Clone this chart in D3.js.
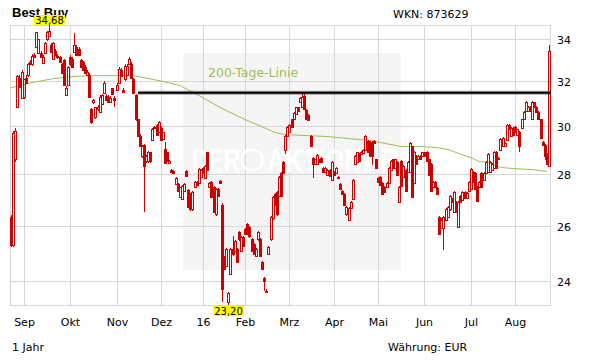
<!DOCTYPE html>
<html>
<head>
<meta charset="utf-8">
<script src="https://cdnjs.cloudflare.com/ajax/libs/d3/7.8.5/d3.min.js"></script>
<style>
body { margin: 0; background: #fff; }
svg { display: block; font-family: "DejaVu Sans", Verdana, sans-serif; }
</style>
</head>
<body>
<svg id="chart" width="611" height="364"></svg>
<script>
// Month ticks: label and index of the first trading day of that month
var monthLabels = ["Sep", "Okt", "Nov", "Dez", "16", "Feb", "Mrz", "Apr", "Mai", "Jun", "Jul", "Aug"];
var monthStartIdx = [6, 28, 50, 71, 91, 111, 132, 153, 174, 196, 218, 239];
var priceTicks = [24, 26, 28, 30, 32, 34];

// Daily candles, 24.08.2015 - 23.08.2016 : [open, high, low, close] in EUR
var candles = [
    [26.31,26.40,25.20,25.27],[25.27,29.80,25.20,29.70],[28.60,29.90,28.50,29.80],[30.84,32.30,30.80,32.21],
    [32.16,32.30,31.70,31.74],[31.24,32.50,31.20,32.44],[31.29,32.10,31.20,32.07],[32.16,32.30,31.90,31.93],
    [32.30,32.85,32.20,32.77],[32.90,33.00,32.75,32.80],[32.77,33.25,32.70,33.19],[33.24,33.30,33.10,33.14],
    [33.62,34.35,33.55,34.31],[33.33,34.00,33.30,33.97],[33.33,33.40,33.10,33.14],[32.86,33.20,32.80,33.14],
    [33.33,33.85,33.30,33.81],[33.97,34.40,33.90,34.31],[34.16,34.68,34.10,34.36],[33.72,33.80,33.35,33.38],
    [33.05,33.85,33.00,33.81],[33.43,33.50,33.20,33.24],[33.19,33.25,33.05,33.10],[33.10,33.15,32.85,32.90],
    [32.77,32.85,32.35,32.39],[33.00,33.05,31.80,31.84],[31.38,31.75,31.30,31.70],[31.84,32.70,31.80,32.63],
    [33.14,33.20,32.70,32.77],[33.05,33.10,32.60,32.67],[33.38,34.26,33.30,33.72],[33.62,33.70,33.20,33.24],
    [33.52,33.60,33.20,33.24],[33.00,33.05,32.60,32.67],[32.90,32.95,32.50,32.53],[32.67,32.75,32.35,32.39],
    [32.30,32.50,32.25,32.44],[32.30,32.35,31.25,31.29],[30.72,30.80,30.10,30.15],[31.03,31.20,30.95,31.12],
    [30.37,30.85,30.30,30.81],[30.72,30.90,30.65,30.85],[30.59,31.35,30.55,31.29],[30.94,31.42,30.90,31.38],
    [31.47,31.98,31.40,31.93],[31.34,31.40,31.10,31.16],[31.29,31.35,31.00,31.07],[31.07,31.30,31.00,31.24],
    [31.66,31.70,31.40,31.43],[31.24,31.30,30.85,31.16],[31.61,31.90,31.55,31.84],[31.89,32.65,31.85,32.58],
    [32.53,32.60,32.20,32.25],[31.61,31.70,31.48,31.52],[32.07,32.78,32.00,32.72],[32.30,32.78,32.25,32.72],
    [32.81,33.10,32.75,33.05],[32.81,32.90,32.10,32.16],[32.11,32.15,31.42,31.47],[31.38,31.42,30.22,30.28],
    [30.28,30.32,29.55,29.59],[29.59,29.65,29.10,29.13],[28.72,29.18,28.65,29.13],[29.21,29.25,26.51,28.31],
    [28.51,28.76,28.45,28.72],[28.51,28.96,28.45,28.92],[28.88,28.92,28.45,28.51],[29.42,29.90,29.38,29.85],
    [29.97,30.02,29.90,29.93],[30.06,30.10,29.60,29.63],[29.72,30.20,29.68,30.15],[29.93,29.98,29.38,29.42],
    [29.46,29.76,29.42,29.72],[29.04,29.33,28.40,28.43],[28.88,28.92,28.48,28.51],[28.43,28.55,28.40,28.51],
    [28.18,28.22,28.06,28.10],[28.14,28.18,28.02,28.06],[27.62,27.90,27.58,27.86],[27.62,27.66,27.28,27.31],
    [27.08,27.50,27.04,27.47],[27.00,27.58,26.96,27.54],[27.31,27.66,27.28,27.62],[28.14,28.18,27.90,27.94],
    [27.35,27.40,26.68,26.72],[27.19,27.23,26.57,26.61],[26.61,27.31,26.57,27.27],[27.47,27.74,27.43,27.70],
    [27.70,27.74,27.55,27.58],[27.66,28.26,27.62,28.22],[27.90,28.22,27.86,28.18],[28.26,28.30,28.02,28.06],
    [27.86,28.35,27.82,28.31],[28.88,28.92,28.14,28.18],[27.47,27.70,27.43,27.66],[27.70,27.74,27.04,27.08],
    [27.50,27.54,26.49,26.53],[26.42,27.43,26.38,27.39],[27.39,27.43,27.08,27.12],[27.74,27.78,27.62,27.66],
    [26.80,26.85,23.30,23.73],[24.84,24.90,24.38,24.42],[24.53,25.17,24.49,25.13],[23.30,23.65,23.20,23.60],
    [24.25,25.17,24.21,25.13],[25.13,25.62,24.90,24.95],[25.06,25.46,25.02,25.42],[25.13,25.17,24.63,24.67],
    [25.75,25.80,25.45,25.49],[25.06,25.61,25.02,25.57],[25.57,25.61,25.20,25.24],[25.86,25.90,25.64,25.68],
    [26.05,26.09,25.64,25.68],[25.94,25.98,25.56,25.60],[25.49,25.53,25.02,25.06],[25.31,25.35,24.91,24.95],
    [24.88,25.17,24.84,25.13],[25.49,25.79,25.45,25.75],[25.49,25.53,24.84,24.88],[24.67,24.71,24.38,24.42],
    [24.11,24.15,23.66,24.00],[23.68,23.75,23.60,23.66],[24.95,25.24,24.91,25.20],[25.49,26.38,25.45,26.34],
    [26.27,27.12,26.23,27.08],[27.19,27.23,26.76,26.80],[27.27,27.31,26.38,26.42],[27.12,27.94,27.08,27.90],
    [28.06,28.10,27.08,27.12],[28.47,28.51,28.02,28.06],[29.00,29.63,28.80,29.59],[29.59,30.01,29.55,29.97],
    [29.72,30.10,29.68,30.06],[30.28,30.32,29.93,29.97],[30.28,30.59,30.24,30.55],[30.50,30.85,30.46,30.81],
    [30.81,30.85,30.59,30.63],[31.03,31.28,30.99,31.24],[30.85,31.47,30.81,31.29],[31.30,31.40,30.68,30.72],
    [30.68,30.72,30.24,30.28],[30.46,30.50,30.20,30.24],[29.59,29.63,29.09,29.13],[28.67,28.70,27.86,28.39],
    [28.39,28.63,28.35,28.59],[28.39,28.80,28.35,28.76],[28.59,28.63,28.43,28.47],[28.67,28.71,28.43,28.47],
    [28.26,28.30,28.06,28.10],[28.10,28.30,28.06,28.26],[27.98,28.22,27.94,28.18],[28.18,28.22,27.90,27.94],
    [27.78,28.51,27.74,28.47],[28.10,28.14,27.94,27.98],[28.06,28.30,28.02,28.26],[27.90,27.94,27.82,27.86],
    [27.60,27.64,27.35,27.39],[27.31,27.35,27.15,27.19],[27.19,27.23,26.76,26.80],[26.42,26.73,26.38,26.69],
    [26.23,26.69,26.19,26.65],[26.65,26.92,26.61,26.88],[27.00,27.82,26.96,27.78],[28.39,28.76,28.35,28.72],
    [28.47,28.92,28.43,28.88],[28.80,28.84,28.47,28.51],[28.80,28.96,28.76,28.92],[28.84,29.04,28.80,29.00],
    [29.00,29.63,28.96,29.59],[29.38,29.42,28.84,28.88],[29.33,29.37,28.68,28.72],[29.29,29.35,28.35,28.72],
    [29.38,29.42,29.25,29.29],[28.59,28.63,28.22,28.26],[27.86,27.90,27.66,27.70],[27.90,27.94,27.54,27.58],
    [27.66,27.70,27.15,27.19],[27.47,27.51,27.23,27.27],[27.47,27.70,27.43,27.66],[27.66,28.30,27.62,28.26],
    [28.18,28.55,28.14,28.51],[28.59,28.63,28.22,28.26],[28.26,28.63,28.22,28.59],[28.47,28.51,27.94,27.98],
    [26.88,27.51,26.84,27.47],[28.51,28.55,27.50,27.54],[27.90,28.35,27.86,28.31],[28.18,28.22,27.27,27.31],
    [28.10,28.51,28.06,28.47],[28.10,29.33,28.06,29.29],[29.13,29.17,27.04,27.08],[27.66,28.96,27.62,28.92],
    [28.72,28.76,28.35,28.39],[28.59,28.76,28.55,28.72],[28.72,28.76,28.59,28.63],[28.72,28.92,28.68,28.88],
    [28.88,28.92,28.68,28.72],[28.92,28.96,28.47,28.51],[28.59,28.63,27.94,27.98],[28.39,28.43,27.27,27.31],
    [27.47,27.74,27.43,27.70],[27.70,27.74,27.43,27.47],[27.43,27.47,27.15,27.19],[26.34,26.38,25.64,25.68],
    [25.90,26.27,25.86,26.23],[25.90,26.35,25.10,26.31],[26.23,26.65,26.19,26.61],[26.34,26.76,26.30,26.72],
    [26.61,27.16,26.57,27.12],[27.00,27.04,26.84,26.88],[26.53,27.31,26.49,27.27],[26.88,26.92,26.49,26.53],
    [25.94,26.92,25.90,26.88],[27.12,27.16,26.84,26.88],[26.96,27.31,26.92,27.27],[27.27,27.31,27.00,27.04],
    [27.04,27.27,27.00,27.23],[27.31,27.74,27.27,27.70],[27.39,28.26,27.35,28.22],[28.10,28.14,27.66,27.70],
    [28.06,28.10,27.35,27.39],[27.47,27.51,26.88,26.92],[27.50,27.74,27.46,27.70],[28.06,28.10,27.46,27.50],
    [27.78,28.10,27.74,28.06],[28.06,28.51,28.02,28.47],[28.10,28.84,28.06,28.80],[28.10,28.51,28.06,28.47],
    [28.18,28.43,28.14,28.39],[28.26,28.96,28.22,28.92],[28.92,28.96,28.22,28.26],[28.67,28.71,28.55,28.59],
    [29.00,29.50,28.96,29.46],[29.13,29.54,29.09,29.50],[29.13,29.33,29.09,29.29],[29.42,30.10,29.38,30.06],
    [30.06,30.10,29.81,29.85],[29.59,29.97,29.55,29.93],[29.93,29.97,29.59,29.63],[29.97,30.01,29.72,29.76],
    [29.63,29.89,29.59,29.85],[29.72,29.80,28.92,29.13],[29.93,30.32,29.89,30.28],[30.28,30.63,30.24,30.59],
    [30.63,31.11,30.59,31.07],[30.63,30.89,30.59,30.85],[30.85,30.89,30.59,30.63],[30.28,31.11,30.24,31.07],
    [31.03,31.07,30.81,30.85],[30.85,30.89,30.55,30.59],[30.59,30.63,30.24,30.28],[30.28,30.32,29.46,29.50],
    [29.33,29.37,29.17,29.21],[29.21,29.25,28.55,28.72],[28.80,28.84,28.35,28.39],[28.31,33.72,28.27,33.43]
];

// 200-Tage-Linie, read at some trading-day indices
var maIdx = [0, 10, 20, 30, 40, 50, 57, 60, 70, 80, 90, 100, 110, 120, 125, 130, 140, 150, 160, 170,
             180, 185, 195, 202, 207, 211, 216, 219, 222, 226, 230, 233, 238, 247, 254];
var maVal = [31.69, 31.93, 32.11, 32.21, 32.25, 32.25, 32.25, 32.21, 32.02, 31.79, 31.29, 30.76, 30.32, 29.93, 29.72,
             29.63, 29.59, 29.55, 29.46, 29.38, 29.21, 29.13, 29.13, 29.08, 29.00, 28.88, 28.72, 28.63, 28.51, 28.47,
             28.31, 28.26, 28.22, 28.18, 28.10];

// drawn resistance line
var resistLevel = 31.47;
var resistStartIdx = 60;

var plotL = 10, plotR = 550, plotT = 25, plotB = 305;
var red = "#cc0000", green = "#9cbd5a", gridColor = "#d6d6d6";

var svg = d3.select("#chart");

// scales
var x = d3.scaleBand()
    .domain(d3.range(candles.length))
    .range([plotL, plotR]);
function xc(i) {
    return Math.round(x(i) + x.bandwidth() / 2);
}
var lowIdx = d3.minIndex(candles, function(d) { return d[2]; });
var highIdx = d3.maxIndex(candles, function(d) { return d[1]; });
var y = d3.scaleLog()
    .domain([candles[lowIdx][2], candles[highIdx][1]])
    .range([plotB, plotT]);

// light grey box behind the watermark
svg.append("rect")
    .attr("x", 183).attr("y", 53)
    .attr("width", 218).attr("height", 217)
    .attr("fill", "#f5f5f5");

// grid
var grid = svg.append("g").attr("shape-rendering", "crispEdges");
grid.selectAll(".vgrid")
    .data(monthStartIdx)
    .enter().append("line")
    .attr("x1", function(d) { return xc(d) + 0.5; })
    .attr("x2", function(d) { return xc(d) + 0.5; })
    .attr("y1", plotT).attr("y2", plotB)
    .attr("stroke", gridColor);
grid.selectAll(".hgrid")
    .data(priceTicks)
    .enter().append("line")
    .attr("x1", plotL).attr("x2", plotR)
    .attr("y1", function(d) { return Math.round(y(d)) + 0.5; })
    .attr("y2", function(d) { return Math.round(y(d)) + 0.5; })
    .attr("stroke", gridColor);
grid.append("rect")
    .attr("x", plotL + 0.5).attr("y", plotT + 0.5)
    .attr("width", plotR - plotL).attr("height", plotB - plotT)
    .attr("fill", "none")
    .attr("stroke", gridColor);

// watermark
var wm = svg.append("g").attr("fill", "#fff")
    .style("font-family", "'Liberation Sans', Arial, sans-serif")
    .style("font-weight", "bold")
    .style("font-size", "33px");
wm.append("text").attr("x", 192).attr("y", 172)
    .attr("textLength", 48).attr("lengthAdjust", "spacingAndGlyphs")
    .text("DER");
wm.append("circle").attr("cx", 252).attr("cy", 160).attr("r", 10.5)
    .attr("fill", "none").attr("stroke", "#fff").attr("stroke-width", 3);
wm.append("text").attr("x", 267).attr("y", 172)
    .attr("textLength", 131).attr("lengthAdjust", "spacingAndGlyphs")
    .text("AKTIONÄR");

// 200 day line
var maLine = d3.line()
    .x(function(d) { return xc(d[0]); })
    .y(function(d) { return y(d[1]); });
svg.append("path")
    .datum(d3.zip(maIdx, maVal))
    .attr("d", maLine)
    .attr("fill", "none")
    .attr("stroke", green)
    .attr("stroke-width", 1);
svg.append("text")
    .attr("x", 208).attr("y", 77)
    .attr("fill", green)
    .style("font-size", "12.5px")
    .text("200-Tage-Linie");

// candles: hollow when close >= open, filled otherwise
var candleG = svg.append("g").attr("shape-rendering", "crispEdges");
candles.forEach(function(d, i) {
    var cx = xc(i);
    var o = d[0], h = d[1], l = d[2], c = d[3];
    var yTop = Math.round(y(Math.max(o, c)));
    var yBot = Math.round(y(Math.min(o, c)));
    var yH = Math.round(y(h)), yL = Math.round(y(l));
    if (yTop - yH > 0) {
        candleG.append("line")
            .attr("x1", cx + 0.5).attr("x2", cx + 0.5)
            .attr("y1", yH).attr("y2", yTop)
            .attr("stroke", red);
    }
    if (yL - yBot > 0) {
        candleG.append("line")
            .attr("x1", cx + 0.5).attr("x2", cx + 0.5)
            .attr("y1", yBot).attr("y2", yL)
            .attr("stroke", red);
    }
    if (c >= o) {
        candleG.append("rect")
            .attr("x", cx - 0.5).attr("y", yTop + 0.5)
            .attr("width", 2).attr("height", Math.max(yBot - yTop, 1))
            .attr("fill", "none")
            .attr("stroke", red);
    } else {
        candleG.append("rect")
            .attr("x", cx - 1).attr("y", yTop)
            .attr("width", 3).attr("height", Math.max(yBot - yTop, 1) + 1)
            .attr("fill", red);
    }
});

// resistance line
svg.append("line")
    .attr("x1", xc(resistStartIdx)).attr("x2", plotR + 1)
    .attr("y1", y(resistLevel)).attr("y2", y(resistLevel))
    .attr("stroke", "rgba(0,0,0,0.35)")
    .attr("stroke-width", 4);
svg.append("line")
    .attr("x1", xc(resistStartIdx)).attr("x2", plotR + 1)
    .attr("y1", y(resistLevel)).attr("y2", y(resistLevel))
    .attr("stroke", "#000")
    .attr("stroke-width", 2);

// axis labels
svg.selectAll(".month")
    .data(monthLabels)
    .enter().append("text")
    .attr("x", function(d, i) { return xc(monthStartIdx[i]) + 0.5; })
    .attr("y", 326)
    .attr("text-anchor", "middle")
    .style("font-size", "11px")
    .text(function(d) { return d; });
svg.selectAll(".price")
    .data(priceTicks)
    .enter().append("text")
    .attr("x", 557)
    .attr("y", function(d) { return Math.round(y(d)) + 4.5; })
    .style("font-size", "11px")
    .text(function(d) { return d; });

// header and footer
svg.append("text").attr("x", 12).attr("y", 17)
    .style("font-family", "'Liberation Sans', Arial, sans-serif")
    .style("font-weight", "bold").style("font-size", "13px")
    .text("Best Buy");
svg.append("text").attr("x", 393).attr("y", 17.5)
    .style("font-size", "11px").text("WKN: 873629");
svg.append("text").attr("x", 12).attr("y", 351)
    .style("font-size", "11px").text("1 Jahr");
svg.append("text").attr("x", 388).attr("y", 351)
    .style("font-size", "11px").text("Währung: EUR");

// yellow high / low markers
function marker(idx, value, boxY) {
    var g = svg.append("g");
    g.append("rect")
        .attr("x", xc(idx) - 15).attr("y", boxY)
        .attr("width", 31).attr("height", 10)
        .attr("fill", "#ffff00");
    g.append("text")
        .attr("x", xc(idx) + 0.5).attr("y", boxY + 8.5)
        .attr("text-anchor", "middle")
        .style("font-size", "10px")
        .text(d3.format(".2f")(value).replace(".", ","));
}
marker(highIdx, candles[highIdx][1], 15);
marker(lowIdx, candles[lowIdx][2], 306);
</script>
</body>
</html>
